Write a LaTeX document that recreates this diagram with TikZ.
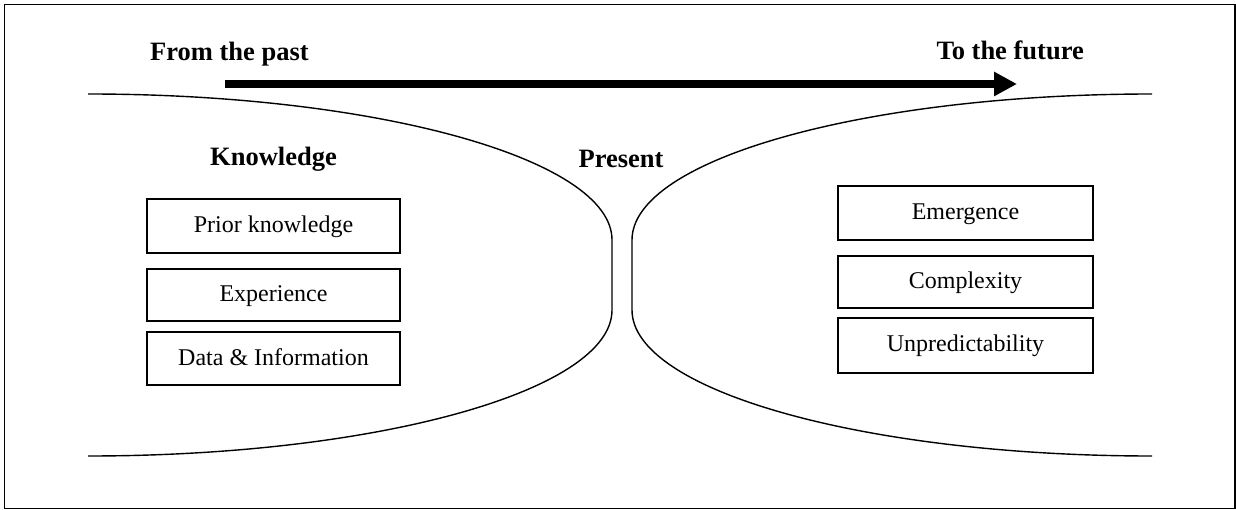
\documentclass[tikz,border=0pt]{standalone}
\usepackage{fontspec}
\setmainfont{Liberation Serif}
\usetikzlibrary{arrows.meta}
\begin{document}
\begin{tikzpicture}[x=1pt,y=1pt,
  boxstyle/.style={draw,line width=1.5pt,inner sep=0pt,minimum width=253pt,minimum height=53pt,
    text height=17.5pt,text depth=4.5pt,
    font=\fontsize{24}{28}\selectfont},
  bigtext/.style={font=\fontsize{26.5}{30}\selectfont\bfseries,inner sep=0pt,anchor=base},
  curve/.style={line width=1.4pt}]
\useasboundingbox (0,0) rectangle (1236,-510);
\draw[line width=1.5pt] (4.5,-4.5) rectangle (1235,-508.5);
% titles
\node[bigtext,anchor=base west] (past) at (150,-61) {From the past};
\node[bigtext,anchor=base east] (future) at (1084,-60) {To the future};
\coordinate (arrowstart) at (225,-84);
\coordinate (arrowend) at (1017,-84);
\draw[line width=8pt,-{Triangle[length=23pt,width=23pt]}] (arrowstart) -- (arrowend);
% curves
\draw[curve] (88,-94) arc[start angle=90,end angle=0,x radius=524pt,y radius=146pt]
  -- (612,-310) arc[start angle=0,end angle=-90,x radius=524pt,y radius=146pt];
\draw[curve] (1152,-94) arc[start angle=90,end angle=180,x radius=520pt,y radius=146pt]
  -- (632,-310) arc[start angle=180,end angle=270,x radius=520pt,y radius=146pt];
% labels
\node[bigtext] (knowledge) at (273.5,-166) {Knowledge};
\node[bigtext] (present) at (621,-168) {Present};
% left boxes
\node[boxstyle,minimum height=54pt] (prior) at (273.5,-226) {Prior knowledge};
\node[boxstyle,minimum height=52pt] (exp) at (273.5,-295) {Experience};
\node[boxstyle,minimum height=53pt] (data) at (273.5,-358.5) {Data \& Information};
% right boxes
\node[boxstyle,minimum width=255pt,minimum height=54pt] (emer) at (965.5,-213) {Emergence};
\node[boxstyle,minimum width=255pt,minimum height=52pt] (comp) at (965.5,-282) {Complexity};
\node[boxstyle,minimum width=255pt,minimum height=55pt] (unpred) at (965.5,-345.5) {Unpredictability};
\end{tikzpicture}
\end{document}
